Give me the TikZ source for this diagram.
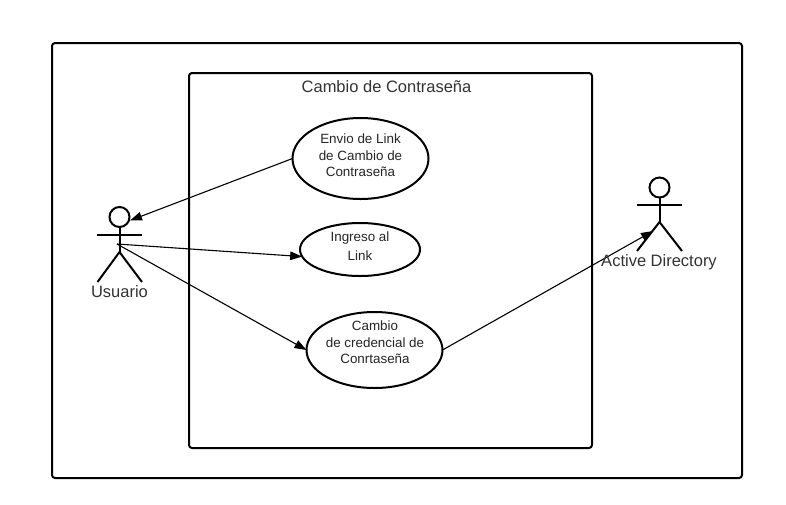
\documentclass[tikz,border=0pt]{standalone}
\usepackage{fontspec}
\setmainfont{Liberation Sans}
\usetikzlibrary{arrows.meta,shapes.geometric}
\definecolor{labelgray}{HTML}{333333}
\tikzset{
  frame/.style={draw=black,line width=2pt,rounded corners=3pt,fill=white},
  usecase/.style={ellipse,draw=black,line width=2pt,fill=white,inner sep=0pt,outer sep=0pt},
  casetext/.style={align=center,inner sep=0pt,font=\fontsize{13.4}{16.5}\selectfont,text=black!85},
  actorline/.style={draw=black,line width=2pt},
  biglabel/.style={font=\fontsize{16.5}{19}\selectfont,text=labelgray,inner sep=0pt},
  link/.style={draw=black,line width=1.1pt,-{Triangle[length=12pt,width=8.5pt]}},
}
\begin{document}
\begin{tikzpicture}[x=1pt,y=-1pt]
\useasboundingbox (0,0) rectangle (786,504);
\fill[white] (0,0) rectangle (786,504);
\node[frame,minimum width=690pt,minimum height=435pt,inner sep=0pt,outer sep=0pt] (outer) at (397,260.5) {};
\node[frame,minimum width=403pt,minimum height=375pt,inner sep=0pt,outer sep=0pt] (system) at (390.5,260.5) {};
\node[biglabel] (title) at (386.5,86.5) {Cambio de Contraseña};

\node[usecase,minimum width=136pt,minimum height=81pt] (e1) at (360.5,158.5) {};
\node[usecase,minimum width=120pt,minimum height=53pt] (e2) at (360,249.5) {};
\node[usecase,minimum width=136pt,minimum height=76pt] (e3) at (374.5,350) {};
\node[casetext] (t1) at (360.5,155.5) {Envio de Link\\de Cambio de\\Contraseña};
\node[casetext,font=\fontsize{13.4}{19}\selectfont] (t2) at (360,246.5) {Ingreso al\\Link};
\node[casetext] (t3) at (375,342.5) {Cambio\\de credencial de\\Conrtaseña};

% Usuario actor
\node[circle,draw=black,line width=2pt,minimum size=20pt,inner sep=0pt,outer sep=0pt] (uhead) at (119.5,217) {};
\coordinate (uhip) at (119.5,252);
\coordinate (ularm) at (97,235);
\coordinate (urarm) at (142,235);
\coordinate (ulleg) at (97.5,282);
\coordinate (urleg) at (142,282);
\coordinate (uhub) at (117,244);
\coordinate (utip) at (130,220.5);
\draw[actorline] (uhead.south) -- (uhip);
\draw[actorline] (ularm) -- (urarm);
\draw[actorline] (ulleg) -- (uhip) -- (urleg);
\node[biglabel] (ulabel) at (119.5,291.5) {Usuario};

% Active Directory actor
\node[circle,draw=black,line width=2pt,minimum size=20pt,inner sep=0pt,outer sep=0pt] (ahead) at (659.5,187.5) {};
\coordinate (ahip) at (659.5,222);
\coordinate (alarm) at (637,205);
\coordinate (ararm) at (682,205);
\coordinate (alleg) at (637,251);
\coordinate (arleg) at (682,251);
\coordinate (atip) at (653,231);
\draw[actorline] (ahead.south) -- (ahip);
\draw[actorline] (alarm) -- (ararm);
\draw[actorline] (alleg) -- (ahip) -- (arleg);

% connectors
\draw[link] (e1.west) -- (utip);
\draw[link] (uhub) -- (e2.187);
\draw[link] (uhub) -- (e3.west);
\draw[link] (e3.east) -- (atip);
\node[biglabel] (alabel) at (659,262) {Active Directory};
\end{tikzpicture}
\end{document}
